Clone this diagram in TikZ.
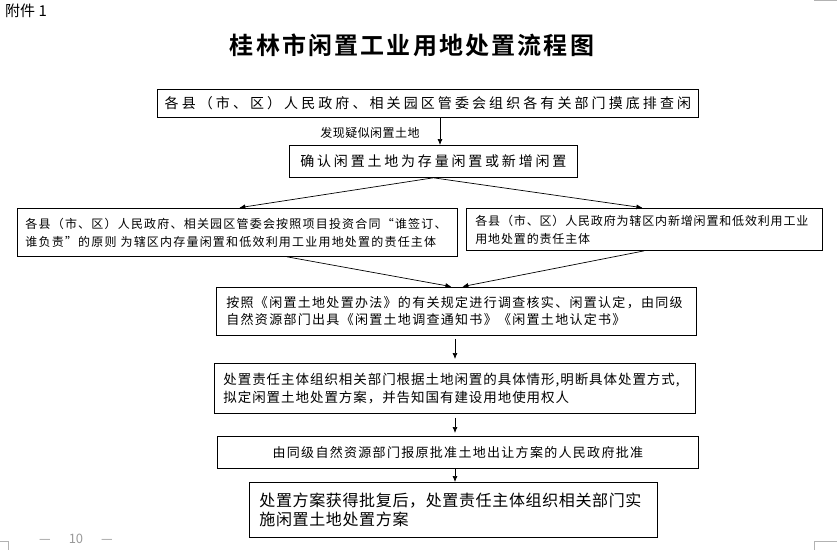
\documentclass[tikz,border=0pt]{standalone}
\usepackage{fontspec}
\setmainfont{Noto Sans CJK SC}[BoldFont={Noto Sans CJK SC Bold}]
\usepackage{xcolor}
\usetikzlibrary{arrows.meta,calc}
\newcommand{\fsz}[3]{\fontsize{#1}{#2}\selectfont\addfontfeature{LetterSpace=#3}}
\tikzset{
    box/.style={draw, line width=0.8pt, anchor=north west, inner ysep=0pt},
    arr/.style={-{Latex[length=6pt,width=5pt]}, line width=0.7pt},
    cropline/.style={draw=gray!60, line width=0.9pt},
}

\begin{document}
\begin{tikzpicture}[x=1pt,y=-1pt]
        \useasboundingbox (0,0) rectangle (837,550);

        \node[anchor=north west, inner sep=0pt, font=\fsz{15}{17}{0}] (att) at (5,4) {附件 1};
        \node[font=\fsz{24}{28}{9}\bfseries] (title) at (412,45) {桂林市闲置工业用地处置流程图};

        \node[box, minimum width=541, minimum height=28, font=\fsz{14}{17}{22}] (b1) at (157,89)
            {各县（市、区）人民政府、相关园区管委会组织各有关部门摸底排查闲};
        \node[box, minimum width=288, minimum height=32, font=\fsz{14}{17}{20}] (b2) at (289,145)
            {确认闲置土地为存量闲置或新增闲置};
        \node[font=\fsz{12}{14}{4}] (find) at (370,133) {发现疑似闲置土地};

        \node[box, inner xsep=8pt, text width=424, align=left, minimum height=48, font=\fsz{12}{18}{10}] (L) at (17,208)
            {各县（市、区）人民政府、相关园区管委会按照项目投资合同“谁签订、\\
             谁负责”的原则\ 为辖区内存量闲置和低效利用工业用地处置的责任主体};
        \node[box, inner xsep=9pt, text width=338, align=left, minimum height=42, font=\fsz{12}{18}{7}] (R) at (466,208)
            {各县（市、区）人民政府为辖区内新增闲置和低效利用工业\\
             用地处置的责任主体};

        \node[box, inner xsep=10pt, text width=460, align=left, minimum height=48, font=\fsz{13}{17}{10}] (b4) at (216,287)
            {按照《闲置土地处置办法》的有关规定进行调查核实、闲置认定，由同级\\
             自然资源部门出具《闲置土地调查通知书》《闲置土地认定书》};
        \node[box, inner xsep=9pt, text width=463, align=left, minimum height=50, font=\fsz{13.5}{17.5}{7}] (b5) at (214,363)
            {处置责任主体组织相关部门根据土地闲置的具体情形,明断具体处置方式,\\
             拟定闲置土地处置方案，并告知国有建设用地使用权人};
        \node[box, minimum width=481, minimum height=32, font=\fsz{13}{16}{10}] (b6) at (217,436)
            {由同级自然资源部门报原批准土地出让方案的人民政府批准};
        \node[box, inner xsep=10pt, text width=388, align=left, minimum height=55, font=\fsz{16}{19.5}{4}] (b7) at (249,482)
            {处置方案获得批复后，处置责任主体组织相关部门实\\
             施闲置土地处置方案};

        \coordinate (xa) at (440,0);
        \coordinate (xl) at (287,0);
        \coordinate (xm) at (455,0);

        \draw[arr] (b1.south -| xa) -- (b2.north -| xa);
        \draw[arr, shorten >=2pt] (b2.south) -- (L.north);
        \draw[arr, shorten >=2pt] (b2.south) -- (R.north);
        \draw[arr, shorten >=2pt] (L.south -| xl) -- ($(b4.north)+(-3,0)$);
        \draw[arr, shorten >=2pt] (R.south) -- ($(b4.north)+(4,0)$);
        \draw[arr, shorten <=3pt, shorten >=4pt] (b4.south -| xm) -- (b5.north -| xm);
        \draw[arr, shorten <=4pt, shorten >=3pt] (b5.south -| xm) -- (b6.north -| xm);
        \draw[arr] (b6.south -| xm) -- (b7.north -| xm);

        % page marks
        \draw[cropline] (814,0.5) -- (837,0.5);
        \draw[cropline] (0,541) -- (8,541) -- (8,550);
        \draw[cropline] (837,541) -- (814,541) -- (814,550);
        \node[text=gray!80, font=\fsz{13}{15}{0}] (page) at (76,539) {—\hspace{18pt}10\hspace{18pt}—};

    \end{tikzpicture}
\end{document}
